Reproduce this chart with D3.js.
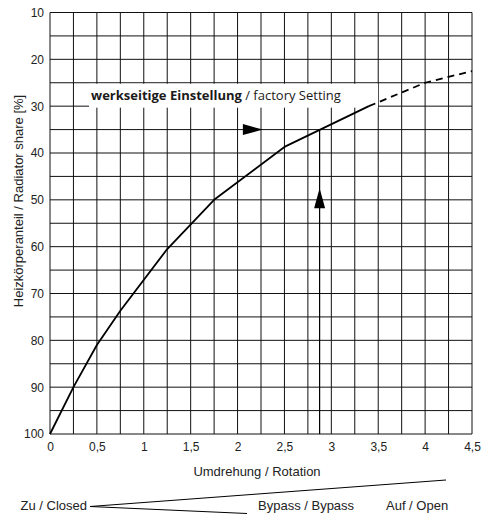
<!DOCTYPE html>
<html>
<head>
<meta charset="utf-8">
<script src="https://cdn.jsdelivr.net/npm/d3@7"></script>
<style>
body { margin: 0; background: #fff; }
svg { display: block; }
text { font-family: "Liberation Sans", Arial, sans-serif; fill: #222; }
</style>
</head>
<body>
<div id="graph"></div>
<script>
// Kennlinie (Umdrehung -> Heizkörperanteil)
var rotSolid   = [0, 0.25, 0.5, 0.75, 1.25, 1.75, 2.5, 3.4];
var shareSolid = [100, 90, 81, 73.7, 60.5, 50, 38.7, 30];
var rotDashed   = [3.4, 4.0, 4.5];
var shareDashed = [30, 25, 22.5];

// werkseitige Einstellung
var factoryRot = 2.875;
var factoryShare = 35;

var xTicks = [0, 0.5, 1, 1.5, 2, 2.5, 3, 3.5, 4, 4.5];
var yTicks = [10, 20, 30, 40, 50, 60, 70, 80, 90, 100];

var W = 493, H = 515;
var margin = { top: 12.5, right: 21, bottom: 81, left: 50 };

var svg = d3.select('#graph').append('svg')
	.attr('width', W)
	.attr('height', H);

var xScale = d3.scaleLinear().domain([0, 4.5]).range([margin.left, W - margin.right]);
var yScale = d3.scaleLinear().domain([10, 100]).range([margin.top, H - margin.bottom]);

var fmt = function (d) { return String(d).replace('.', ','); };

// grid, every 0.25 turns / 5 %
var gx = d3.range(0, 4.5001, 0.25);
var gy = d3.range(10, 100.001, 5);

svg.append('g').selectAll('line').data(gx).enter().append('line')
	.attr('x1', d => xScale(d)).attr('x2', d => xScale(d))
	.attr('y1', yScale(10)).attr('y2', yScale(100))
	.style('stroke', '#111').style('stroke-width', 1);

svg.append('g').selectAll('line').data(gy).enter().append('line')
	.attr('x1', xScale(0)).attr('x2', xScale(4.5))
	.attr('y1', d => yScale(d)).attr('y2', d => yScale(d))
	.style('stroke', '#111').style('stroke-width', 1);

// tick labels via axes without lines
var xAxis = d3.axisBottom(xScale).tickValues(xTicks).tickFormat(fmt).tickSize(0).tickPadding(8);
var yAxis = d3.axisLeft(yScale).tickValues(yTicks).tickSize(0).tickPadding(6);

var gxa = svg.append('g').attr('transform', 'translate(0,' + yScale(100) + ')').call(xAxis);
var gya = svg.append('g').attr('transform', 'translate(' + xScale(0) + ',0)').call(yAxis);
[gxa, gya].forEach(function (g) {
	g.select('.domain').remove();
	g.selectAll('text').attr('font-family', null).attr('font-size', null)
		.style('font-size', '12px').style('fill', '#222');
});

// label box
var lbl = svg.append('g');
lbl.append('rect')
	.attr('x', 89).attr('y', yScale(25) + 1)
	.attr('width', 289).attr('height', yScale(30) - yScale(25) + 0.5)
	.style('fill', '#fff');
var t = lbl.append('text')
	.attr('x', 91).attr('y', 100)
	.style('font-family', '"Open Sans", sans-serif')
	.style('font-size', '13px')
	.style('fill', '#1a1a1a');
t.append('tspan').style('font-weight', 'bold').text('werkseitige Einstellung');
t.append('tspan').text(' / factory Setting');

// curve
var line = d3.line().x(d => xScale(d[0])).y(d => yScale(d[1]));

svg.append('path')
	.datum(d3.zip(rotSolid, shareSolid))
	.attr('d', line)
	.style('fill', 'none').style('stroke', '#000').style('stroke-width', 1.8)
	.style('stroke-linejoin', 'round');

svg.append('path')
	.datum(d3.zip(rotDashed, shareDashed))
	.attr('d', line)
	.style('fill', 'none').style('stroke', '#000').style('stroke-width', 1.8)
	.style('stroke-dasharray', '7,5');

// factory setting line + arrows
svg.append('line')
	.attr('x1', xScale(factoryRot)).attr('x2', xScale(factoryRot))
	.attr('y1', yScale(100)).attr('y2', yScale(factoryShare))
	.style('stroke', '#000').style('stroke-width', 1.2);

var hx = xScale(2.27), hy = yScale(factoryShare);
svg.append('path')
	.attr('d', 'M' + hx + ',' + hy + 'L' + (hx - 20) + ',' + (hy - 5.5) + 'L' + (hx - 20) + ',' + (hy + 5.5) + 'Z')
	.style('fill', '#000');

var vx = xScale(factoryRot), vy = yScale(47.5);
svg.append('path')
	.attr('d', 'M' + vx + ',' + vy + 'L' + (vx - 5.5) + ',' + (vy + 20) + 'L' + (vx + 5.5) + ',' + (vy + 20) + 'Z')
	.style('fill', '#000');

// axis titles
svg.append('text')
	.attr('x', (xScale(0) + xScale(4.5)) / 2 - 4).attr('y', 476)
	.attr('text-anchor', 'middle')
	.style('font-size', '13px')
	.text('Umdrehung / Rotation');

svg.append('text')
	.attr('transform', 'translate(23,201) rotate(-90)')
	.attr('text-anchor', 'middle')
	.style('font-size', '13px')
	.text('Heizkörperanteil / Radiator share [%]');

// Zu / Bypass / Auf wedge
var apex = [90, 506.5];
svg.append('path')
	.attr('d', 'M446,480L' + apex[0] + ',' + apex[1] + 'L247,513.5')
	.style('fill', 'none').style('stroke', '#000').style('stroke-width', 1);

svg.append('text').attr('x', 87).attr('y', 510).attr('text-anchor', 'end')
	.style('font-size', '13px').text('Zu / Closed');
svg.append('text').attr('x', 258).attr('y', 510)
	.style('font-size', '13px').text('Bypass / Bypass');
svg.append('text').attr('x', 386).attr('y', 510)
	.style('font-size', '13px').text('Auf / Open');
</script>
</body>
</html>
